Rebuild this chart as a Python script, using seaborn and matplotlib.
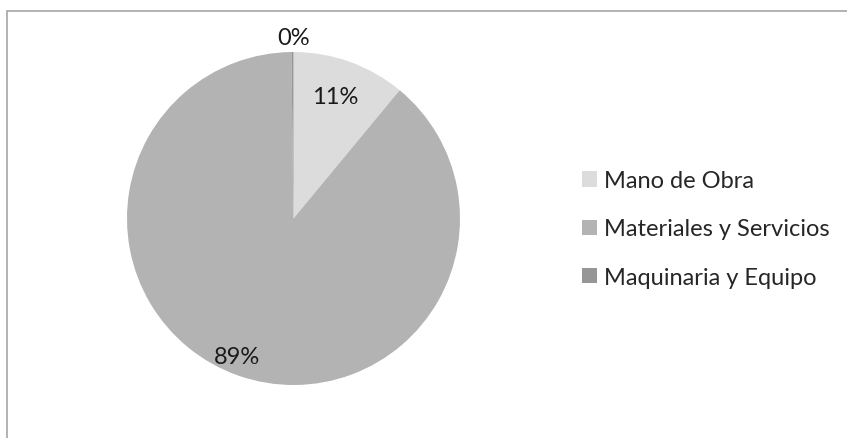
import matplotlib
matplotlib.use("Agg")
import matplotlib.pyplot as plt
import seaborn as sns
from matplotlib.patches import Rectangle

categories = ["Mano de Obra", "Materiales y Servicios", "Maquinaria y Equipo"]
values = [11.0, 88.8, 0.2]
labels = ["11%", "89%", "0%"]
colors = ["#DCDCDC", "#B3B3B3", "#969696"]

sns.set_theme(style="white")
plt.rcParams["font.family"] = ["Lato", "DejaVu Sans"]

fig = plt.figure(figsize=(8.47, 4.39), dpi=100)

# outer chart frame (only left and top edges visible in the crop)
fig.add_artist(Rectangle((6.5 / 847, -0.5), 2, 1.5 - 12 / 439, transform=fig.transFigure,
                         fill=False, edgecolor="#A6A6A6", linewidth=1.2))

ax = fig.add_axes([127 / 847, 1 - 386 / 439, 333 / 847, 333 / 439])
wedges, _ = ax.pie(values, colors=colors, startangle=90, counterclock=False,
                   wedgeprops=dict(linewidth=0))
ax.set_aspect("equal")
ax.set_xlim(-1, 1)
ax.set_ylim(-1, 1)
ax.axis("off")

# percentage labels
label_pos = [(0.25, 0.73), (-0.34, -0.83), (0.0, 1.085)]
for (x, y), t in zip(label_pos, labels):
    ax.text(x, y, t, ha="center", va="center", fontsize=17, color="#1a1a1a")

fig.legend(wedges, categories, loc="center left", bbox_to_anchor=(573 / 847, 1 - 230 / 439),
           frameon=False, fontsize=17, handlelength=0.62, handleheight=0.62,
           handletextpad=0.3, labelspacing=1.15, borderaxespad=0)

fig.savefig("out.png", dpi=100)
